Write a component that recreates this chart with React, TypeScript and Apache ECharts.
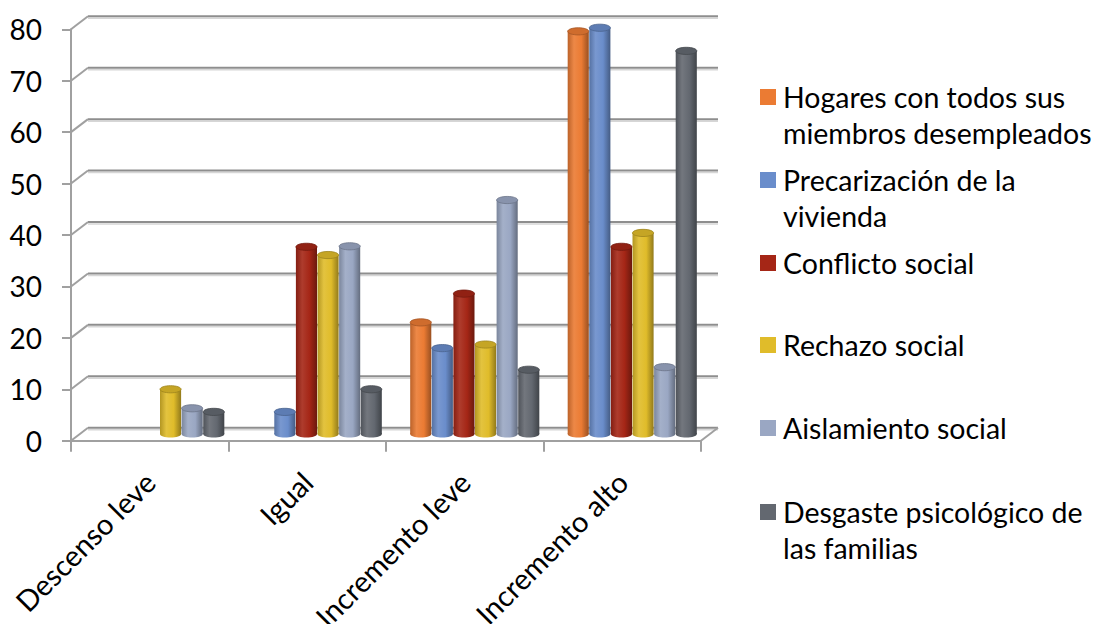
import React, { useEffect, useRef } from "react";
import * as echarts from "echarts";

const categories = ["Descenso leve", "Igual", "Incremento leve", "Incremento alto"];
const seriesNames = [
  "Hogares con todos sus miembros desempleados",
  "Precarización de la vivienda",
  "Conflicto social",
  "Rechazo social",
  "Aislamiento social",
  "Desgaste psicológico de las familias",
];
const legendLines = [
  ["Hogares con todos sus", "miembros desempleados"],
  ["Precarización de la", "vivienda"],
  ["Conflicto social"],
  ["Rechazo social"],
  ["Aislamiento social"],
  ["Desgaste psicológico de", "las familias"],
];
const hogares = [0, 0, 21.7, 78.3];
const precarizacion = [0, 4.3, 16.7, 79.0];
const conflicto = [0, 36.4, 27.3, 36.4];
const rechazo = [8.7, 34.8, 17.4, 39.1];
const aislamiento = [5.0, 36.5, 45.5, 13.0];
const desgaste = [4.3, 8.7, 12.5, 74.5];
const seriesValues = [hogares, precarizacion, conflicto, rechazo, aislamiento, desgaste];
const colors = ["#EB7B33", "#6A8DCB", "#A52616", "#E0BC2A", "#9AA7C3", "#636870"];
const yTicks = [0, 10, 20, 30, 40, 50, 60, 70, 80];

const FONT = "Lato, 'Open Sans', sans-serif";

function shade(hex: string, f: number) {
  const n = parseInt(hex.slice(1), 16);
  let r = (n >> 16) & 255, g = (n >> 8) & 255, b = n & 255;
  const t = f < 0 ? 0 : 255;
  const p = Math.abs(f);
  r = Math.round((t - r) * p + r);
  g = Math.round((t - g) * p + g);
  b = Math.round((t - b) * p + b);
  return "rgb(" + r + "," + g + "," + b + ")";
}

export default function App() {
  const ref = useRef<HTMLDivElement>(null);
  useEffect(() => {
    if (!ref.current) return;
    const chart = echarts.init(ref.current, undefined, { renderer: "svg" });

    const DX = 17, DY = -13;

    const barSeries = seriesValues.map((vals, si) => ({
      name: seriesNames[si],
      type: "custom",
      xAxisIndex: 1,
      yAxisIndex: 1,
      z: 3,
      itemStyle: { color: colors[si] },
      encode: { x: 0, y: 1 },
      data: vals.map((v, ci) => [ci, v]),
      renderItem: (params: any, api: any) => {
        const ci = api.value(0);
        const v = api.value(1);
        if (!v) return null;
        const top = api.coord([ci, v]);
        const base = api.coord([ci, 0]);
        const band = api.size([1, 0])[0];
        const w = band * 0.134;
        const step = w + 0.5;
        const cx = top[0] + (si - 2.5) * step;
        const ry = w * 0.17;
        const c = colors[si];
        const grad = new echarts.graphic.LinearGradient(0, 0, 1, 0, [
          { offset: 0, color: shade(c, -0.2) },
          { offset: 0.3, color: shade(c, 0.1) },
          { offset: 0.65, color: c },
          { offset: 1, color: shade(c, -0.35) },
        ]);
        return {
          type: "group",
          children: [
            {
              type: "ellipse",
              shape: { cx, cy: base[1], rx: w / 2, ry },
              style: { fill: grad },
            },
            {
              type: "rect",
              shape: { x: cx - w / 2, y: top[1], width: w, height: base[1] - top[1] },
              style: { fill: grad },
            },
            {
              type: "ellipse",
              shape: { cx, cy: top[1], rx: w / 2, ry },
              style: { fill: shade(c, -0.12), stroke: shade(c, -0.3), lineWidth: 0.8 },
            },
          ],
        };
      },
    }));

    const wallSeries = {
      type: "custom",
      xAxisIndex: 0,
      yAxisIndex: 0,
      silent: true,
      z: 1,
      encode: { y: 0 },
      data: yTicks.map((t) => [t]),
      renderItem: (params: any, api: any) => {
        const y = api.coord([0, api.value(0)])[1];
        const x0 = params.coordSys.x;
        const wdt = params.coordSys.width;
        const children: any[] = [
          {
            type: "line",
            shape: { x1: x0 + DX, y1: y + DY + 2, x2: x0 + DX + wdt, y2: y + DY + 2 },
            style: { stroke: "#d6d6d6", lineWidth: 1.5 },
          },
          {
            type: "line",
            shape: { x1: x0 + DX, y1: y + DY, x2: x0 + DX + wdt, y2: y + DY },
            style: { stroke: "#8e8e8e", lineWidth: 2 },
          },
          {
            type: "line",
            shape: { x1: x0, y1: y, x2: x0 + DX, y2: y + DY },
            style: { stroke: "#a0a0a0", lineWidth: 2 },
          },
        ];
        if (api.value(0) === 0) {
          const x1 = x0 + wdt;
          children.push({
            type: "line",
            shape: { x1, y1: y, x2: x1 + DX, y2: y + DY },
            style: { stroke: "#a0a0a0", lineWidth: 2 },
          });
        }
        return { type: "group", children };
      },
    };

    const legendTops = [97, 180, 263, 345, 428, 512];
    const LH = 36;
    const legends = seriesNames.map((name, i) => {
      const lines = legendLines[i];
      const text = lines.length > 1 ? " \n" + lines.join("\n") : lines[0];
      const h = lines.length > 1 ? LH * 3 : LH;
      return {
        show: true,
        orient: "vertical",
        left: 760,
        top: legendTops[i] - h / 2,
        padding: 0,
        itemWidth: 16,
        itemHeight: 16,
        itemGap: 0,
        icon: "rect",
        data: [name],
        formatter: () => text,
        selectedMode: false,
        textStyle: {
          fontFamily: FONT,
          fontSize: 28.5,
          lineHeight: LH,
          color: "#000",
          padding: [0, 0, 0, 2],
        },
      };
    });

    const option: any = {
      animation: false,
      backgroundColor: "#fff",
      legend: legends,
      grid: [
        { left: 71, top: 29.3, width: 630, height: 411.4, containLabel: false, outerBoundsMode: "none" },
        { left: 81, top: 22.6, width: 630, height: 411.4, containLabel: false, outerBoundsMode: "none" },
      ],
      xAxis: [
        {
          gridIndex: 0,
          type: "category",
          data: categories,
          axisLine: { show: true, lineStyle: { color: "#a0a0a0", width: 2 } },
          axisTick: { show: true, length: 11, interval: 0, lineStyle: { color: "#a0a0a0", width: 2 } },
          axisLabel: {
            interval: 0,
            rotate: 45,
            margin: 36,
            fontFamily: FONT,
            fontSize: 29,
            color: "#000",
          },
          z: 5,
        },
        {
          gridIndex: 1,
          type: "category",
          data: categories,
          show: false,
        },
      ],
      yAxis: [
        {
          gridIndex: 0,
          type: "value",
          min: 0,
          max: 80,
          interval: 10,
          axisLine: { show: true, lineStyle: { color: "#a0a0a0", width: 2 } },
          axisTick: { show: true, length: 9, lineStyle: { color: "#a0a0a0", width: 2 } },
          axisLabel: { margin: 29, fontFamily: FONT, fontSize: 28, color: "#000" },
          splitLine: { show: false },
          z: 5,
        },
        {
          gridIndex: 1,
          type: "value",
          min: 0,
          max: 80,
          interval: 10,
          show: false,
          splitLine: { show: false },
        },
      ],
      series: [wallSeries, ...barSeries],
    };
    chart.setOption(option);
    return () => chart.dispose();
  }, []);
  return <div ref={ref} style={{ width: 1102, height: 632, margin: -8 }} />;
}
